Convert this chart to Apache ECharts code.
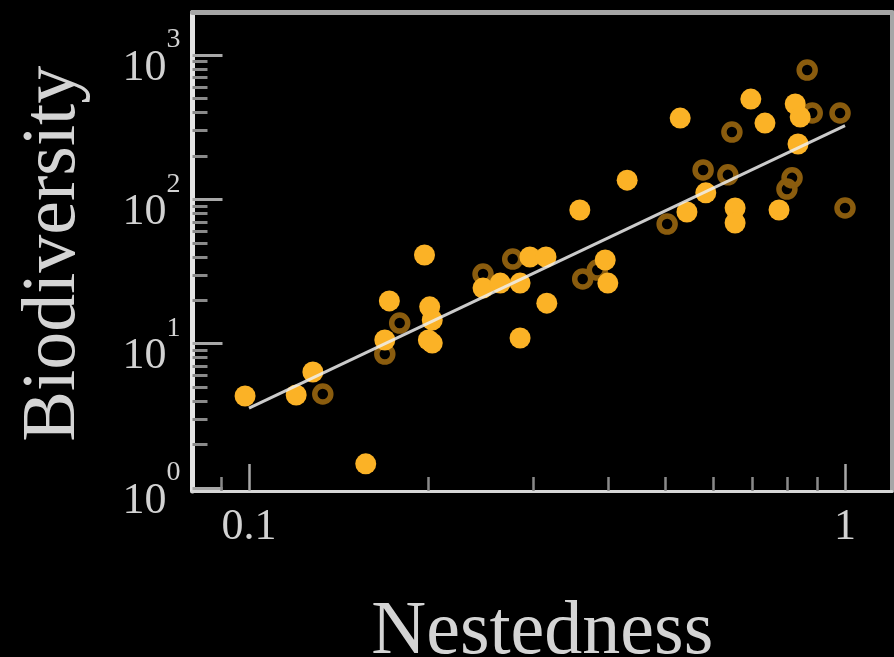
<!DOCTYPE html>
<html>
<head>
<meta charset="utf-8">
<script src="https://cdn.jsdelivr.net/npm/echarts@6/dist/echarts.min.js"></script>
<style>
  html, body { margin: 0; padding: 0; background: #000; }
  #chart { width: 894px; height: 657px; }
</style>
</head>
<body>
<div id="chart"></div>
<script>
// ---- data (real values; drawn on log10 scales) ----
var filledX = [0.0985, 0.120, 0.128, 0.157, 0.172, 0.169, 0.197, 0.201, 0.203, 0.200, 0.203, 0.247, 0.264, 0.285, 0.285, 0.296, 0.315, 0.316, 0.359, 0.431, 0.396, 0.400, 0.529, 0.543, 0.584, 0.654, 0.654, 0.695, 0.734, 0.775, 0.825, 0.841, 0.834];
var filledY = [4.34, 4.41, 6.37, 1.47, 19.8, 10.6, 41.2, 18.0, 14.6, 10.6, 10.1, 24.3, 26.3, 26.3, 10.95, 39.9, 39.9, 19.1, 84.5, 136, 38.0, 26.3, 366, 81.8, 111, 87.2, 68.6, 496, 338, 84.5, 458, 372, 242];
var openX = [0.133, 0.169, 0.179, 0.247, 0.277, 0.363, 0.384, 0.503, 0.578, 0.636, 0.646, 0.815, 0.799, 0.864, 0.881, 0.981, 1.0];
var openY = [4.48, 8.48, 13.9, 30.4, 38.6, 28.1, 32.4, 67.5, 160, 148, 293, 141, 118, 788, 397, 397, 87.2];
var fitX = [0.1, 1];
var fitY = [3.58, 325];

var xMajorTicks = [0.1, 1];
var xMinorTicks = [0.09, 0.2, 0.3, 0.4, 0.5, 0.6, 0.7, 0.8, 0.9];
var yMajorTicks = [1, 10, 100, 1000];
var yMinorTicks = [2, 3, 4, 5, 6, 7, 8, 9, 20, 30, 40, 50, 60, 70, 80, 90, 200, 300, 400, 500, 600, 700, 800, 900];
var xRange = [0.0804, 1.199];
var yRange = [0.953, 1974];

var L = Math.log10;
function pairs(xs, ys) { return xs.map(function (x, i) { return [L(x), L(ys[i])]; }); }

var serif = 'Liberation Serif';
var xMin = L(xRange[0]), xMax = L(xRange[1]);
var yMin = L(yRange[0]), yMax = L(yRange[1]);

var chart = echarts.init(document.getElementById('chart'));
chart.setOption({
  backgroundColor: '#000',
  animation: false,
  grid: { left: 192.5, right: 2, top: 12.5, bottom: 166, containLabel: false, outerBoundsMode: 'none' },
  xAxis: [
    {
      type: 'value', position: 'bottom', min: xMin, max: xMax,
      name: 'Nestedness', nameLocation: 'middle', nameGap: 104,
      nameTextStyle: { fontFamily: serif, fontSize: 76, color: '#d4d4d4' },
      axisLine: { show: true, onZero: false, lineStyle: { color: '#d6d6d6', width: 3 } },
      axisTick: { show: true, inside: true, length: 27, customValues: xMajorTicks.map(L), lineStyle: { color: '#a8a8a8', width: 2.5 } },
      axisLabel: {
        show: true, margin: 14, customValues: xMajorTicks.map(L),
        fontFamily: serif, fontSize: 44, color: '#d2d2d2',
        formatter: function (v) { return String(Math.round(Math.pow(10, v) * 10) / 10); }
      },
      splitLine: { show: false }
    },
    {
      type: 'value', position: 'bottom', min: xMin, max: xMax,
      axisLine: { show: false, onZero: false },
      axisTick: { show: true, inside: true, length: 14, customValues: xMinorTicks.map(L), lineStyle: { color: '#8a8a8a', width: 2.5 } },
      axisLabel: { show: false }, splitLine: { show: false }
    },
    {
      type: 'value', position: 'top', min: xMin, max: xMax,
      axisLine: { show: true, onZero: false, lineStyle: { color: '#a6a6a6', width: 5 } },
      axisTick: { show: false }, axisLabel: { show: false }, splitLine: { show: false }
    }
  ],
  yAxis: [
    {
      type: 'value', position: 'left', min: yMin, max: yMax,
      name: 'Biodiversity', nameLocation: 'middle', nameGap: 100,
      nameTextStyle: { fontFamily: serif, fontSize: 76, color: '#d4d4d4', padding: [0, 4, 0, 0] },
      axisLine: { show: true, onZero: false, lineStyle: { color: '#e4e4e4', width: 5 } },
      axisTick: { show: true, inside: true, length: 30, customValues: yMajorTicks.map(L), lineStyle: { color: '#a8a8a8', width: 3 } },
      axisLabel: {
        show: true, margin: 12, customValues: yMajorTicks.map(L),
        color: '#d2d2d2',
        formatter: function (v) { return '{b|10}{s|' + Math.round(v) + '}'; },
        rich: {
          b: { fontFamily: serif, fontSize: 44, color: '#d2d2d2', height: 34, lineHeight: 60, verticalAlign: 'bottom' },
          s: { fontFamily: serif, fontSize: 28, color: '#d2d2d2', height: 30, lineHeight: 60, verticalAlign: 'top' }
        }
      },
      splitLine: { show: false }
    },
    {
      type: 'value', position: 'left', min: yMin, max: yMax,
      axisLine: { show: false, onZero: false },
      axisTick: { show: true, inside: true, length: 15, customValues: yMinorTicks.map(L), lineStyle: { color: '#8a8a8a', width: 3 } },
      axisLabel: { show: false }, splitLine: { show: false }
    },
    {
      type: 'value', position: 'right', min: yMin, max: yMax,
      axisLine: { show: true, onZero: false, lineStyle: { color: '#a6a6a6', width: 4 } },
      axisTick: { show: false }, axisLabel: { show: false }, splitLine: { show: false }
    }
  ],
  series: [
    {
      type: 'scatter', name: 'open', xAxisIndex: 0, yAxisIndex: 0,
      data: pairs(openX, openY), symbol: 'circle', symbolSize: 16,
      itemStyle: { color: 'rgba(0,0,0,0)', borderColor: '#8a5c0e', borderWidth: 5.5, opacity: 1 },
      z: 2
    },
    {
      type: 'scatter', name: 'filled', xAxisIndex: 0, yAxisIndex: 0,
      data: pairs(filledX, filledY), symbol: 'circle', symbolSize: 21,
      itemStyle: { color: '#FBB226', opacity: 1 },
      z: 3
    },
    {
      type: 'line', name: 'fit', xAxisIndex: 0, yAxisIndex: 0,
      data: pairs(fitX, fitY), symbol: 'none',
      lineStyle: { color: 'rgba(238,238,238,0.85)', width: 3 },
      z: 4
    }
  ]
});
</script>
</body>
</html>
